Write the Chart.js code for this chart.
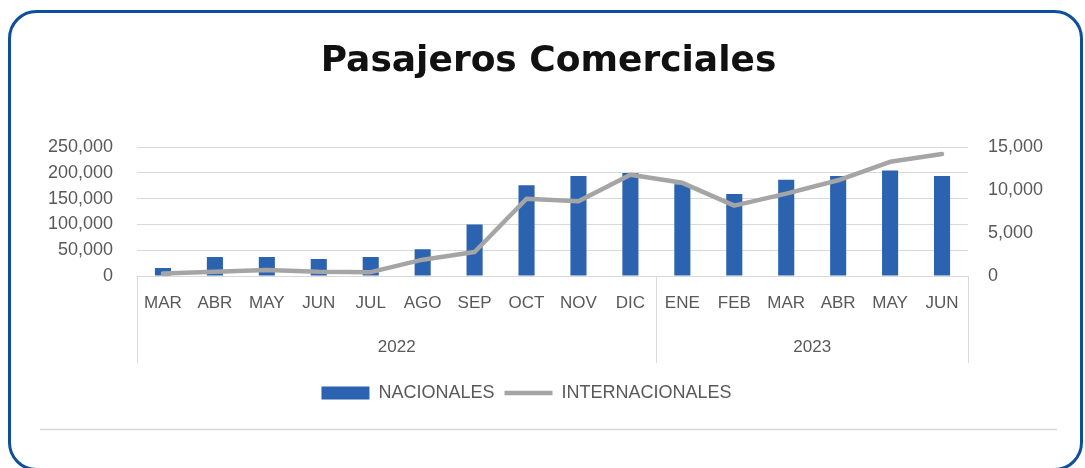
<!DOCTYPE html>
<html>
<head>
<meta charset="utf-8">
<script src="https://cdn.jsdelivr.net/npm/chart.js@4/dist/chart.umd.min.js"></script>
<style>
html,body{margin:0;padding:0;background:#fff;}
canvas{display:block;}
</style>
</head>
<body>
<canvas id="c" width="1085" height="468"></canvas>
<script>
// ---- data ----
const months = ['MAR','ABR','MAY','JUN','JUL','AGO','SEP','OCT','NOV','DIC','ENE','FEB','MAR','ABR','MAY','JUN'];
const yearLabels = ['2022','2023'];
const yearCounts = [10, 6];
const nacionales = [15500, 37000, 37000, 33000, 37000, 52000, 100000, 176000, 194000, 200000, 178000, 159000, 187000, 194000, 205000, 194000];
const internacionales = [300, 500, 700, 500, 450, 1900, 2800, 9000, 8700, 11800, 10850, 8200, 9600, 11150, 13300, 14200];
const leftTicks = [0, 50000, 100000, 150000, 200000, 250000];
const rightTicks = [0, 5000, 10000, 15000];

const TXT = '#595959';
const GRID = '#d9d9d9';
const FONT = "'Liberation Sans', Arial, sans-serif";

const framePlugin = {
  id: 'frame',
  beforeDraw(chart) {
    const ctx = chart.ctx;
    ctx.save();
    ctx.fillStyle = '#fff';
    ctx.fillRect(0, 0, chart.width, chart.height);
    ctx.strokeStyle = '#0d4f9c';
    ctx.lineWidth = 3;
    ctx.beginPath();
    ctx.roundRect(9.5, 11.5, 1072, 458, 27);
    ctx.stroke();
    ctx.strokeStyle = GRID;
    ctx.lineWidth = 1.5;
    ctx.beginPath();
    ctx.moveTo(40, 429.5);
    ctx.lineTo(1057, 429.5);
    ctx.stroke();
    ctx.restore();
  },
  afterLayout(chart) {
    const lg = chart.legend;
    if (lg) { lg.left -= 22; lg.right -= 22; }
  },
  afterDraw(chart) {
    const ctx = chart.ctx;
    const x = chart.scales.x;
    const area = chart.chartArea;
    ctx.save();
    ctx.strokeStyle = GRID;
    ctx.lineWidth = 1;
    const bounds = [area.left];
    let idx = 0;
    yearCounts.forEach((n) => {
      idx += n;
      if (idx < months.length) {
        bounds.push((x.getPixelForValue(idx - 1) + x.getPixelForValue(idx)) / 2);
      }
    });
    bounds.push(area.right);
    bounds.forEach(b => {
      ctx.beginPath();
      ctx.moveTo(Math.round(b) + 0.5, area.bottom);
      ctx.lineTo(Math.round(b) + 0.5, 363);
      ctx.stroke();
    });
    ctx.fillStyle = TXT;
    ctx.font = '17px ' + FONT;
    ctx.textAlign = 'center';
    ctx.textBaseline = 'middle';
    let start = 0;
    yearLabels.forEach((yl, i) => {
      const end = start + yearCounts[i] - 1;
      const cx = (x.getPixelForValue(start) + x.getPixelForValue(end)) / 2;
      ctx.fillText(yl, cx, 347);
      start += yearCounts[i];
    });
    ctx.restore();
  }
};

const fmt = v => Number(v).toLocaleString('en-US');

new Chart(document.getElementById('c'), {
  data: {
    labels: months,
    datasets: [
      {
        type: 'bar',
        label: 'NACIONALES',
        data: nacionales,
        backgroundColor: '#2b63b0',
        borderWidth: 0,
        yAxisID: 'y',
        order: 2,
        pointStyle: 'rect',
        categoryPercentage: 1,
        barPercentage: 0.31
      },
      {
        type: 'line',
        label: 'INTERNACIONALES',
        data: internacionales,
        borderColor: '#a5a5a5',
        backgroundColor: '#a5a5a5',
        borderWidth: 4.5,
        pointRadius: 0,
        pointHoverRadius: 0,
        pointStyle: 'line',
        tension: 0,
        borderJoinStyle: 'round',
        borderCapStyle: 'round',
        yAxisID: 'y1',
        order: 1
      }
    ]
  },
  options: {
    responsive: false,
    animation: false,
    devicePixelRatio: 1,
    layout: { padding: { top: 0, left: 26, right: 14, bottom: 56 } },
    plugins: {
      title: {
        display: true,
        text: 'Pasajeros Comerciales',
        color: '#111',
        font: { family: "'DejaVu Sans', sans-serif", size: 36, weight: 'bold' },
        padding: { top: 40, bottom: 64 }
      },
      legend: {
        position: 'bottom',
        labels: {
          sort: (a, b) => a.datasetIndex - b.datasetIndex,
          usePointStyle: true,
          pointStyleWidth: 48,
          boxHeight: 13,
          padding: 10,
          color: TXT,
          font: { family: FONT, size: 18 }
        }
      },
      tooltip: { enabled: false }
    },
    scales: {
      x: {
        grid: { display: false, drawTicks: false },
        border: { display: false },
        ticks: { color: TXT, font: { family: FONT, size: 17 }, padding: 17, autoSkip: false, maxRotation: 0 },
        afterFit(s) { s.height = 98; }
      },
      y: {
        position: 'left',
        min: 0, max: 250000,
        afterBuildTicks(s) { s.ticks = leftTicks.map(v => ({ value: v })); },
        grid: { color: GRID, lineWidth: 1, drawTicks: false },
        border: { display: false },
        ticks: { color: TXT, font: { family: FONT, size: 18 }, padding: 24, callback: fmt },
        afterFit(s) { s.width = 111; }
      },
      y1: {
        position: 'right',
        min: 0, max: 15000,
        afterBuildTicks(s) { s.ticks = rightTicks.map(v => ({ value: v })); },
        grid: { drawOnChartArea: false, drawTicks: false },
        border: { display: false },
        ticks: { color: TXT, font: { family: FONT, size: 18 }, padding: 20, callback: fmt },
        afterFit(s) { s.width = 103; }
      }
    }
  },
  plugins: [framePlugin]
});
</script>
</body>
</html>
